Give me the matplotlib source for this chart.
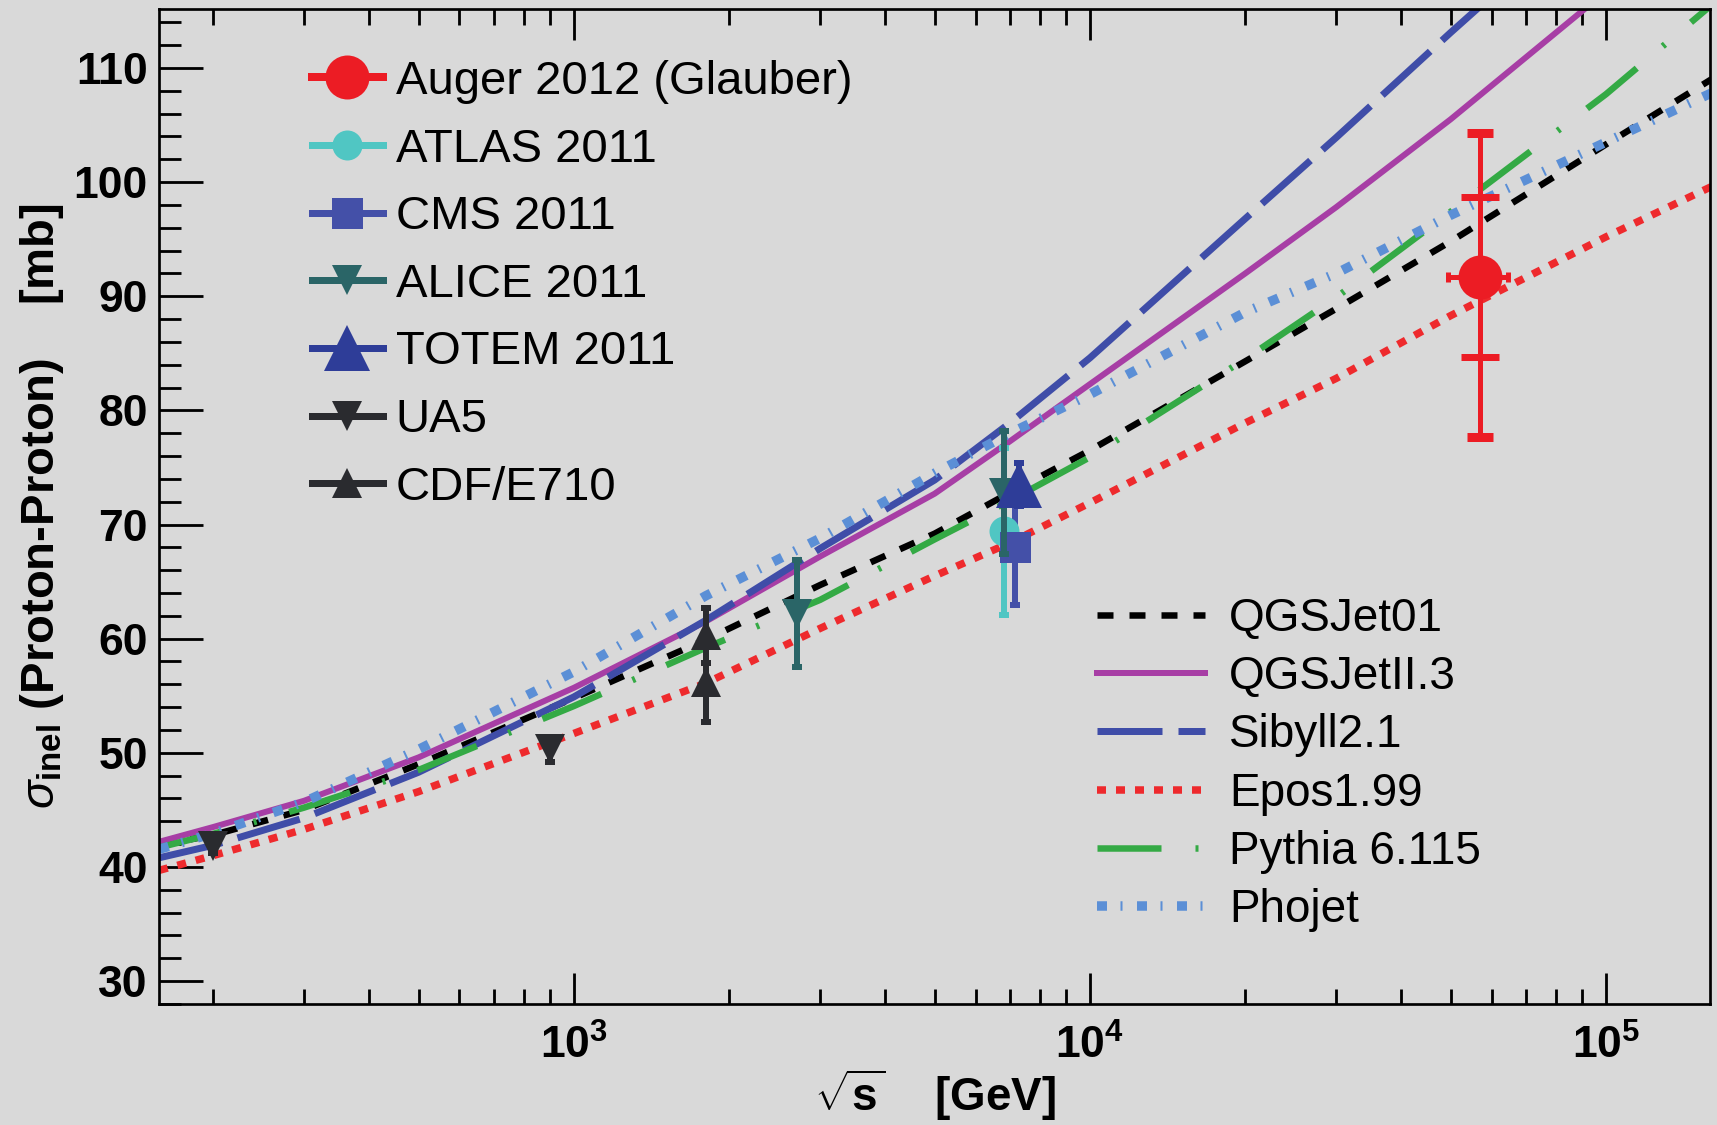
import math
import matplotlib
matplotlib.use('Agg')
import matplotlib.pyplot as plt
from matplotlib.lines import Line2D
from matplotlib.ticker import LogLocator, MultipleLocator, FuncFormatter, NullFormatter

plt.rcParams['font.family'] = ['Liberation Sans', 'DejaVu Sans']
plt.rcParams['mathtext.fontset'] = 'custom'
plt.rcParams['mathtext.rm'] = 'Liberation Sans'
plt.rcParams['mathtext.bf'] = 'Liberation Sans:bold'
plt.rcParams['mathtext.it'] = 'Liberation Sans:italic'

PX = 0.72  # points per pixel at dpi 100
BG = '#d9d9d9'

# --- model curves (sqrt(s) in GeV, sigma_inel in mb) ---
E_mod = [157, 200, 300, 500, 1000, 1800, 3000, 5000, 7000, 1e4, 2e4, 3e4, 5e4, 1e5, 1.6e5]
sig_qgsjet01 = [41.9, 42.8, 45.0, 49.0, 54.8, 59.9, 64.7, 69.2, 72.8, 76.5, 84.3, 88.9, 94.8, 103.3, 109.0]
sig_epos = [39.7, 41.0, 43.3, 46.6, 51.7, 56.1, 60.9, 65.5, 68.4, 71.9, 78.9, 82.8, 88.3, 95.2, 99.6]
sig_pythia = [41.7, 42.9, 45.2, 48.5, 54.1, 59.2, 63.4, 68.7, 72.1, 75.9, 84.5, 89.9, 97.4, 107.7, 115.5]
sig_phojet = [41.55, 42.95, 45.7, 50.3, 57.1, 63.75, 68.8, 74.5, 78.0, 81.4, 88.6, 92.0, 97.1, 103.5, 107.8]

E_qgsjet2 = [157, 200, 300, 500, 1000, 1800, 3000, 5000, 7000, 1e4, 2e4, 3e4, 5e4, 1e5]
sig_qgsjet2 = [42.2, 43.5, 45.8, 49.6, 55.7, 61.5, 67.2, 72.7, 77.3, 82.3, 92.0, 97.8, 105.5, 116.7]

E_sibyll = [157, 200, 300, 500, 1000, 1800, 3000, 5000, 7000, 1e4, 2e4, 3e4, 5e4, 7e4]
sig_sibyll = [40.8, 41.9, 44.3, 48.3, 54.9, 61.6, 67.9, 73.9, 78.9, 84.6, 96.8, 103.9, 113.1, 119.0]

# --- measurements ---
auger_E, auger_sig = 57000, 91.7
auger_dE = 7500
auger_stat = 7.0
auger_tot_lo, auger_tot_hi = 14.0, 12.6

atlas_E, atlas_sig, atlas_err = [6800], [69.4], [7.3]
cms_E, cms_sig, cms_err = [7150], [68.0], [5.05]
alice_E, alice_sig, alice_err = [2700, 6800], [62.2, 72.8], [4.7, 5.35]
totem_E, totem_sig, totem_err = [7300], [73.5], [1.9]
ua5_E, ua5_sig, ua5_err = [200, 900], [41.8, 50.3], [0.6, 1.1]
cdf_E, cdf_sig, cdf_err = [1800, 1800], [60.3, 56.2], [2.4, 3.5]


def dash(lw, *px):
    return (0, tuple(p * PX / lw for p in px))


fig = plt.figure(figsize=(17.17, 11.25), dpi=100, facecolor=BG)
ax = fig.add_axes([0.0926, 0.1076, 0.9033, 0.8844], facecolor=BG)
ax.set_xscale('log')
ax.set_xlim(157, 1.59e5)
ax.set_ylim(28.0, 115.16)

# model lines
lines = {}
lw = 6.5 * PX
lines['QGSJet01'], = ax.plot(E_mod, sig_qgsjet01, color='black', lw=lw, ls=dash(lw, 16, 16))
lw = 6.0 * PX
lines['QGSJetII.3'], = ax.plot(E_qgsjet2, sig_qgsjet2, color='#a73ea5', lw=lw, ls='-')
lw = 7.0 * PX
lines['Sibyll2.1'], = ax.plot(E_sibyll, sig_sibyll, color='#3f4da8', lw=lw, ls=dash(lw, 65, 16))
lw = 7.5 * PX
lines['Epos1.99'], = ax.plot(E_mod, sig_epos, color='#ee2a2d', lw=lw, ls=dash(lw, 9, 10))
lw = 6.5 * PX
lines['Pythia 6.115'], = ax.plot(E_mod, sig_pythia, color='#34aa45', lw=lw, ls=dash(lw, 64, 34, 3, 34))
lw = 9.5 * PX
lines['Phojet'], = ax.plot(E_mod, sig_phojet, color='#5b8fd6', lw=lw, ls=dash(lw, 10, 13.5, 2, 14.5))

# data points
eb = dict(fmt='none', elinewidth=6 * PX, capsize=5 * PX, capthick=6 * PX)
ax.errorbar(atlas_E, atlas_sig, yerr=atlas_err, ecolor='#50c6c3', zorder=5, **eb)
ax.plot(atlas_E, atlas_sig, 'o', color='#50c6c3', ms=30 * PX, mew=0, zorder=6)
ax.errorbar(cms_E, cms_sig, yerr=cms_err, ecolor='#4450a8', zorder=5, **eb)
ax.plot(cms_E, cms_sig, 's', color='#4450a8', ms=31 * PX, mew=0, zorder=6)
ax.errorbar(alice_E, alice_sig, yerr=alice_err, ecolor='#2a6567', zorder=7, **eb)
ax.plot(alice_E, alice_sig, 'v', color='#2a6567', ms=30 * PX, mew=0, zorder=7)
ax.errorbar(totem_E, totem_sig, yerr=totem_err, ecolor='#2e3d98', zorder=8, **eb)
ax.plot(totem_E, totem_sig, '^', color='#2e3d98', ms=46 * PX, mew=0, zorder=8)
ax.errorbar(ua5_E, ua5_sig, yerr=ua5_err, ecolor='#2a2b2f', zorder=5, **eb)
ax.plot(ua5_E, ua5_sig, 'v', color='#2a2b2f', ms=30 * PX, mew=0, zorder=6)
ax.errorbar(cdf_E, cdf_sig, yerr=cdf_err, ecolor='#2a2b2f', zorder=5, **eb)
ax.plot(cdf_E, cdf_sig, '^', color='#2a2b2f', ms=30 * PX, mew=0, zorder=6)

red = '#ec1c24'
ax.errorbar([auger_E], [auger_sig], yerr=[[auger_tot_lo], [auger_tot_hi]], fmt='none',
            ecolor=red, elinewidth=5 * PX, capsize=13 * PX, capthick=9 * PX, zorder=9)
ax.errorbar([auger_E], [auger_sig], yerr=auger_stat, fmt='none',
            ecolor=red, elinewidth=5 * PX, capsize=19 * PX, capthick=7 * PX, zorder=9)
ax.errorbar([auger_E], [auger_sig], xerr=auger_dE, fmt='none',
            ecolor=red, elinewidth=5 * PX, capsize=5 * PX, capthick=5 * PX, zorder=9)
ax.plot([auger_E], [auger_sig], 'o', color=red, ms=44 * PX, mew=0, zorder=10)

# axes styling (ROOT look)
for side in ['left', 'bottom', 'top', 'right']:
    ax.spines[side].set_linewidth(2.7 * PX)
ax.xaxis.set_major_locator(LogLocator(base=10, numticks=10))
ax.xaxis.set_minor_locator(LogLocator(base=10, subs=range(2, 10), numticks=50))
ax.xaxis.set_major_formatter(FuncFormatter(lambda v, p: r'$\mathbf{10^{%d}}$' % round(math.log10(v))))
ax.xaxis.set_minor_formatter(NullFormatter())
ax.yaxis.set_major_locator(MultipleLocator(10))
ax.yaxis.set_minor_locator(MultipleLocator(2))

ax.tick_params(axis='x', which='major', direction='in', length=31 * PX, width=2.8 * PX,
               top=True, bottom=True, labelsize=32, pad=15)
ax.tick_params(axis='x', which='minor', direction='in', length=15.5 * PX, width=2.8 * PX,
               top=True, bottom=True)
ax.tick_params(axis='y', which='major', direction='in', length=44 * PX, width=2.8 * PX,
               left=True, right=False, labelsize=32, pad=8)
ax.tick_params(axis='y', which='minor', direction='in', length=22 * PX, width=2.8 * PX,
               left=True, right=False)
for lab in ax.get_yticklabels():
    lab.set_fontweight('bold')

ax.set_ylabel(r'$\sigma_{\mathbf{inel}}$ (Proton-Proton)    [mb]', fontsize=34, fontweight='bold')
ax.yaxis.set_label_coords(-0.060, 0.5)
ax.set_xlabel(r'$\sqrt{\mathbf{s}}$    [GeV]', fontsize=33, fontweight='bold')
ax.xaxis.set_label_coords(0.5, -0.064)

# legend for measurements
data_handles = [
    Line2D([], [], color=red, lw=8 * PX, marker='o', ms=44 * PX, mew=0),
    Line2D([], [], color='#50c6c3', lw=7 * PX, marker='o', ms=30 * PX, mew=0),
    Line2D([], [], color='#4450a8', lw=7 * PX, marker='s', ms=31 * PX, mew=0),
    Line2D([], [], color='#2a6567', lw=7 * PX, marker='v', ms=30 * PX, mew=0),
    Line2D([], [], color='#2e3d98', lw=7 * PX, marker='^', ms=46 * PX, mew=0),
    Line2D([], [], color='#2a2b2f', lw=7 * PX, marker='v', ms=30 * PX, mew=0),
    Line2D([], [], color='#2a2b2f', lw=7 * PX, marker='^', ms=30 * PX, mew=0),
]
data_labels = ['Auger 2012 (Glauber)', 'ATLAS 2011', 'CMS 2011', 'ALICE 2011',
               'TOTEM 2011', 'UA5', 'CDF/E710']
leg1 = ax.legend(data_handles, data_labels, loc='upper left',
                 bbox_to_anchor=(312 / 1717, 1 - 60 / 1125), bbox_transform=fig.transFigure,
                 frameon=False, fontsize=34, borderpad=0, borderaxespad=0,
                 handlelength=1.5, handletextpad=0.27, labelspacing=0.5, numpoints=1)
ax.add_artist(leg1)

model_names = ['QGSJet01', 'QGSJetII.3', 'Sibyll2.1', 'Epos1.99', 'Pythia 6.115', 'Phojet']
ax.legend([lines[n] for n in model_names], model_names, loc='upper left',
          bbox_to_anchor=(1097 / 1717, 1 - 597 / 1125), bbox_transform=fig.transFigure,
          frameon=False, fontsize=33, borderpad=0, borderaxespad=0,
          handlelength=2.35, handletextpad=0.53, labelspacing=0.31)

fig.savefig('out.png', dpi=100, facecolor=BG)
